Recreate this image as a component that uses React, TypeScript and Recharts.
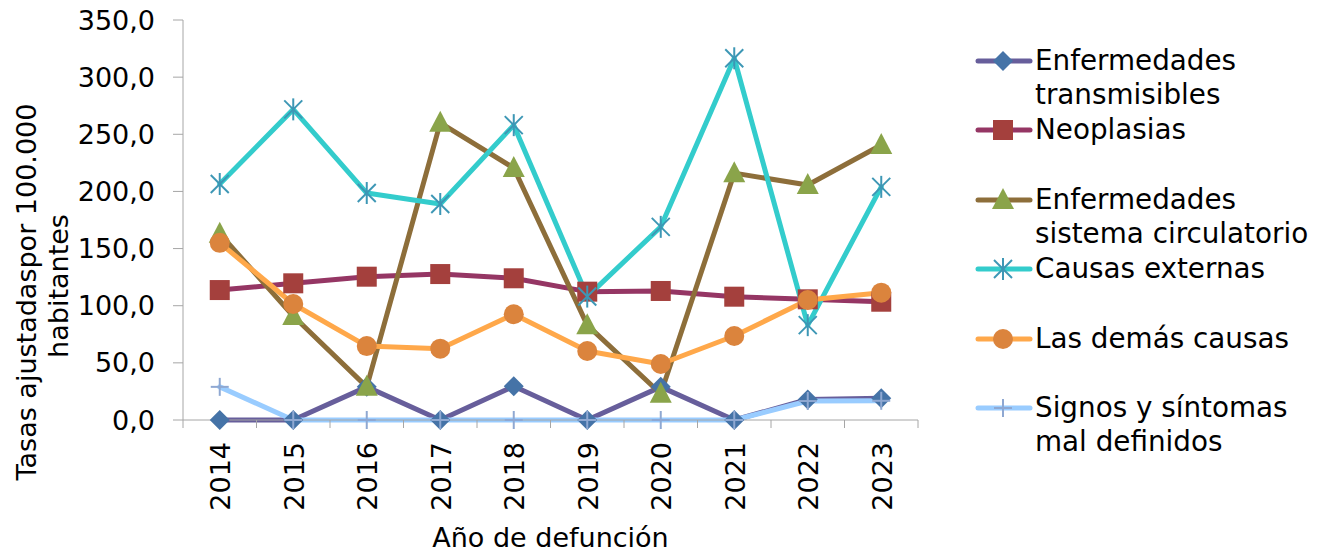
import React from 'react';
import { LineChart, Line, XAxis, YAxis, Label } from 'recharts';

const years = ['2014', '2015', '2016', '2017', '2018', '2019', '2020', '2021', '2022', '2023'];
const transmisibles = [0, 0, 29, 0, 29.5, 0, 29, 0, 18, 19];
const neoplasias = [113.7, 119.6, 125.4, 127.7, 124, 112.3, 112.9, 107.9, 105.6, 103.5];
const circulatorio = [163, 91, 29, 260, 220.5, 83, 23, 216, 205.6, 240.6];
const externas = [206.5, 271.8, 198.6, 189, 258, 108, 169, 316.5, 83, 204];
const demas = [155, 101.5, 64.7, 62.4, 92.5, 60.4, 49, 73.5, 105, 111.4];
const signos = [29, 0, 0, 0, 0, 0, 0, 0, 16.6, 16.8];
const yTicks = [0, 50, 100, 150, 200, 250, 300, 350];

const data = years.map((year, i) => ({
  year,
  transmisibles: transmisibles[i],
  neoplasias: neoplasias[i],
  circulatorio: circulatorio[i],
  externas: externas[i],
  demas: demas[i],
  signos: signos[i],
}));

const FONT = '"DejaVu Sans", Verdana, sans-serif';
const AXIS = '#A6A6A6';
const PLOT_W = 735;
const BAND = PLOT_W / years.length;

type Shape = (cx: number, cy: number, key?: any) => React.ReactElement;

const diamond: Shape = (cx, cy, key) => (
  <path key={key} d={`M${cx},${cy - 10}L${cx + 10},${cy}L${cx},${cy + 10}L${cx - 10},${cy}Z`} fill="#4573A7" />
);
const square: Shape = (cx, cy, key) => (
  <rect key={key} x={cx - 10} y={cy - 10} width={20} height={20} fill="#A4403D" />
);
const triangle: Shape = (cx, cy, key) => (
  <path key={key} d={`M${cx},${cy - 12}L${cx + 11},${cy + 9}L${cx - 11},${cy + 9}Z`} fill="#8AA44A" />
);
const star: Shape = (cx, cy, key) => (
  <g key={key} stroke="#3D97B5" strokeWidth={2}>
    <line x1={cx - 9} y1={cy - 9} x2={cx + 9} y2={cy + 9} />
    <line x1={cx - 9} y1={cy + 9} x2={cx + 9} y2={cy - 9} />
    <line x1={cx} y1={cy - 11} x2={cx} y2={cy + 11} />
  </g>
);
const circle: Shape = (cx, cy, key) => <circle key={key} cx={cx} cy={cy} r={10} fill="#DB843D" />;
const plus: Shape = (cx, cy, key) => (
  <g key={key} stroke="#8FA8D2" strokeWidth={2}>
    <line x1={cx - 9} y1={cy} x2={cx + 9} y2={cy} />
    <line x1={cx} y1={cy - 9} x2={cx} y2={cy + 9} />
  </g>
);

const series = [
  { key: 'transmisibles', name: 'Enfermedades transmisibles', color: '#675E9B', shape: diamond },
  { key: 'neoplasias', name: 'Neoplasias', color: '#953664', shape: square },
  { key: 'circulatorio', name: 'Enfermedades sistema circulatorio', color: '#8D6E3A', shape: triangle },
  { key: 'externas', name: 'Causas externas', color: '#33CCCC', shape: star },
  { key: 'demas', name: 'Las demás causas', color: '#FFA84A', shape: circle },
  { key: 'signos', name: 'Signos y síntomas mal definidos', color: '#99CCFF', shape: plus },
];

const legendRowY = [61, 130, 200, 269, 339, 408];

const fmt = (v: number) => v.toFixed(1).replace('.', ',');

const YearTick = (props: any) => {
  const { x, y, payload, index } = props;
  return (
    <g>
      <line x1={x + BAND / 2} y1={y - 8} x2={x + BAND / 2} y2={y} stroke={AXIS} />
      {index === 0 && <line x1={x - BAND / 2} y1={y - 8} x2={x - BAND / 2} y2={y} stroke={AXIS} />}
      <text
        transform={`translate(${x + 1},${y + 14}) rotate(-90)`}
        textAnchor="end"
        dy="0.36em"
        fontSize={27}
        fontFamily={FONT}
        fill="#000"
      >
        {payload.value}
      </text>
    </g>
  );
};

export default function App() {
  return (
    <div style={{ position: 'absolute', left: 0, top: 0, width: 1323, height: 552, background: '#fff' }}>
      <LineChart width={1323} height={552} data={data} margin={{ top: 20, right: 405, left: 0, bottom: 0 }}>
        <XAxis
          dataKey="year"
          interval={0}
          padding={{ left: BAND / 2, right: BAND / 2 }}
          height={132}
          tickSize={8}
          tickMargin={0}
          tickLine={false}
          axisLine={{ stroke: AXIS }}
          tick={<YearTick />}
        >
          <Label
            value="Año de defunción"
            position="insideBottom"
            offset={5}
            style={{ fontSize: 27, fontFamily: FONT, fill: '#000' }}
          />
        </XAxis>
        <YAxis
          domain={[0, 350]}
          ticks={yTicks}
          width={183}
          tickSize={10}
          tickMargin={18}
          tickFormatter={fmt}
          tickLine={{ stroke: AXIS }}
          axisLine={{ stroke: AXIS }}
          tick={{ fontSize: 27, fontFamily: FONT, fill: '#000' }}
        >
          <Label
            content={() => (
              <g fontSize={27} fontFamily={FONT} fill="#000">
                <text transform="translate(26,292) rotate(-90)" textAnchor="middle" dy="0.36em">
                  Tasas ajustadaspor 100.000
                </text>
                <text transform="translate(58,286) rotate(-90)" textAnchor="middle" dy="0.36em">
                  habitantes
                </text>
              </g>
            )}
          />
        </YAxis>
        {series.map((s) => (
          <Line
            key={s.key}
            dataKey={s.key}
            name={s.name}
            stroke={s.color}
            strokeWidth={5}
            strokeLinejoin="round"
            strokeLinecap="round"
            isAnimationActive={false}
            dot={(p: any) => s.shape(p.cx, p.cy, `${s.key}-${p.index}`)}
            activeDot={false}
          />
        ))}
      </LineChart>
      {series.map((s, i) => (
        <div key={s.key} style={{ position: 'absolute', left: 975, top: legendRowY[i] - 17 }}>
          <svg width={58} height={34} style={{ position: 'absolute', left: 0, top: 0 }}>
            <line x1={3} y1={17} x2={55} y2={17} stroke={s.color} strokeWidth={5} strokeLinecap="round" />
            {s.shape(28, 17)}
          </svg>
          <div
            style={{
              position: 'absolute',
              left: 60,
              top: 0,
              width: 290,
              fontSize: 27.8,
              lineHeight: '34px',
              fontFamily: FONT,
              color: '#000',
            }}
          >
            {s.name}
          </div>
        </div>
      ))}
    </div>
  );
}
